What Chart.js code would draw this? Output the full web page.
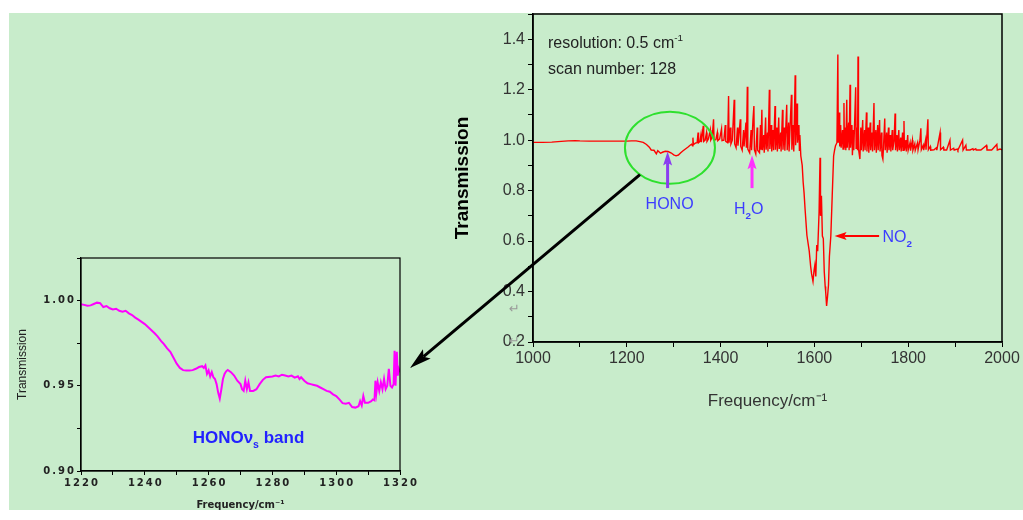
<!DOCTYPE html>
<html>
<head>
<meta charset="utf-8">
<script src="https://cdn.jsdelivr.net/npm/chart.js@4.4.1/dist/chart.umd.min.js"></script>
<style>
  html, body { margin: 0; padding: 0; background: #ffffff; }
  #bg { position: absolute; left: 9px; top: 13px; width: 1014px; height: 497px; background: #c8eccb; }
  canvas { position: absolute; left: 0; top: 0; }
</style>
</head>
<body>
<div id="bg"></div>
<canvas id="mainChart" width="1023" height="520"></canvas>
<canvas id="zoomChart" width="1023" height="520"></canvas>
<script>
// spectrum 1000-2000 cm-1
const freq = [1000,1020,1040,1060,1075,1090,1100,1120,1150,1180,1200,1210,1220,1228,1235,1242,1248,1252,1258,1263,1266,1272,1276,1282,1288,1295,1300,1305,1310,1315,1320,1325,1330,1335,1338,1340,1341,1342,1346,1350,1352,1353,1356,1358,1359,1363,1364,1367,1370,1371,1374,1378,1379,1382,1385,1386,1390,1393,1394,1398,1402,1403,1407,1410,1411,1415,1417,1418,1421,1422,1425,1429,1430,1433,1436,1437,1442,1443,1446,1449,1450,1454,1455,1457,1458,1462,1465,1466,1469,1471,1472,1475,1478,1479,1483,1485,1486,1488,1489,1492,1493,1496,1497,1500,1501,1504,1505,1508,1509,1512,1513,1516,1517,1520,1521,1524,1525,1528,1529,1532,1533,1536,1537,1541,1542,1545,1546,1551,1552,1555,1556,1559,1560,1563,1564,1567,1568,1569,1571,1574,1576,1578,1580,1584,1589,1592,1594,1597,1599,1601,1603,1605,1607,1610,1612,1613,1615,1617,1619,1621,1623,1624,1626,1628,1630,1632,1635,1638,1641,1643,1645,1648,1650,1651,1653,1654,1656,1657,1660,1661,1663,1664,1666,1667,1669,1670,1673,1674,1676,1677,1680,1681,1683,1684,1688,1689,1691,1692,1693,1694,1697,1699,1700,1703,1704,1707,1708,1711,1712,1715,1716,1719,1720,1723,1724,1727,1728,1731,1732,1735,1736,1739,1740,1743,1744,1746,1747,1750,1751,1754,1755,1758,1759,1762,1763,1766,1767,1770,1772,1773,1776,1777,1780,1781,1784,1785,1788,1789,1791,1792,1795,1796,1799,1800,1804,1805,1809,1810,1814,1815,1820,1821,1825,1827,1828,1832,1833,1837,1838,1842,1843,1847,1848,1855,1860,1861,1868,1869,1875,1876,1882,1889,1890,1897,1898,1905,1906,1916,1917,1923,1924,1932,1938,1939,1944,1945,1955,1967,1968,1978,1989,1990,1996,2000];
const trans = [0.991,0.991,0.992,0.995,0.997,0.998,0.997,0.996,0.996,0.996,0.996,0.997,0.997,0.994,0.991,0.983,0.972,0.961,0.960,0.946,0.958,0.948,0.952,0.956,0.955,0.949,0.942,0.938,0.941,0.950,0.958,0.965,0.972,0.980,0.984,0.978,1.010,0.982,0.988,0.990,1.030,0.990,0.995,1.020,0.992,1.057,0.995,1.000,1.030,0.995,1.005,1.040,1.000,1.010,1.083,1.000,1.002,1.030,0.998,1.005,1.045,0.998,1.000,1.060,0.995,0.990,1.175,0.990,1.050,0.985,1.000,1.160,0.985,0.970,1.050,0.978,1.083,0.975,0.960,1.040,0.975,1.070,0.970,1.212,0.965,0.950,1.040,0.960,1.080,1.135,0.962,0.945,1.050,0.960,0.950,1.060,0.962,1.120,0.960,1.020,0.950,1.090,0.962,1.030,0.955,1.200,0.965,1.060,0.955,1.040,0.960,1.135,0.962,1.050,0.955,1.090,0.965,1.030,0.955,1.120,0.962,1.050,0.958,1.140,0.960,1.070,0.955,1.180,0.962,1.060,0.955,1.257,0.980,1.145,0.990,1.060,0.960,1.020,0.938,0.900,0.834,0.790,0.730,0.623,0.560,0.500,0.470,0.440,0.480,0.505,0.460,0.584,0.560,0.716,0.930,0.700,0.780,0.620,0.610,0.480,0.420,0.400,0.343,0.380,0.425,0.540,0.620,0.780,0.938,0.960,0.978,0.990,1.339,0.990,1.110,0.975,1.060,0.970,1.040,0.965,1.147,0.970,1.050,0.960,1.160,0.970,1.070,0.960,1.220,0.970,1.060,0.940,1.040,0.960,1.210,0.965,1.050,0.960,1.332,0.965,0.925,1.050,0.960,1.080,0.955,1.040,0.960,1.110,0.955,1.050,0.950,1.070,0.960,1.030,0.955,1.147,0.960,1.040,0.950,1.060,0.960,1.080,0.955,1.030,0.940,0.925,0.960,1.086,0.960,1.030,0.950,1.050,0.960,1.020,0.955,1.040,0.960,1.000,1.106,0.960,1.020,0.955,1.040,0.960,1.010,0.955,1.030,0.960,1.076,0.960,1.000,0.955,1.020,0.960,0.990,0.958,1.000,0.960,0.985,0.960,0.990,0.962,1.000,1.047,0.962,0.980,0.960,1.000,0.962,1.083,0.962,0.975,0.960,0.962,0.970,0.960,1.030,0.962,0.972,0.961,0.961,1.000,0.961,0.968,0.961,0.965,0.961,1.000,0.961,0.980,0.961,0.961,0.966,0.961,0.966,0.961,0.961,0.979,0.961,0.961,0.983,0.961,0.965,0.961];

// HONO v3 band close-up 1220-1320 cm-1
const freqZoom = [1220,1221,1222,1223,1224,1225,1226,1227,1228,1229,1230,1231,1232,1233,1234,1235,1236,1237,1238,1239,1240,1241,1242,1243,1244,1245,1246,1247,1248,1249,1250,1251,1252,1253,1254,1255,1256,1257,1258,1258.5,1259,1259.5,1260,1260.5,1261,1261.5,1262,1262.5,1263,1263.5,1264,1264.5,1265,1265.5,1266,1267,1268,1269,1270,1270.5,1271,1271.5,1272,1272.5,1273,1274,1275,1276,1277,1278,1280,1281,1282,1283,1284,1285,1286,1287,1288,1288.5,1289,1290,1291,1292,1293,1294,1295,1296,1297,1298,1299,1300,1301,1302,1303,1304,1305,1306,1307,1307.5,1308,1308.5,1309,1310,1311,1311.5,1312,1312.3,1312.6,1313,1313.5,1314,1314.5,1315,1315.5,1316,1316.5,1317,1317.5,1318,1318.3,1318.6,1319,1319.3,1319.6,1320];
const transZoom = [0.9978,0.9975,0.9970,0.9972,0.9980,0.9988,0.9985,0.9962,0.9968,0.9955,0.9948,0.9952,0.9940,0.9935,0.9940,0.9925,0.9915,0.9900,0.9888,0.9875,0.9862,0.9845,0.9828,0.9810,0.9790,0.9765,0.9745,0.9720,0.9700,0.9665,0.9630,0.9605,0.9592,0.9590,0.9590,0.9592,0.9600,0.9610,0.9615,0.9605,0.9620,0.9570,0.9590,0.9555,0.9580,0.9550,0.9540,0.9510,0.9460,0.9425,0.9480,0.9540,0.9570,0.9585,0.9593,0.9580,0.9560,0.9530,0.9510,0.9480,0.9470,0.9530,0.9480,0.9520,0.9470,0.9470,0.9480,0.9510,0.9535,0.9550,0.9555,0.9560,0.9555,0.9565,0.9560,0.9555,0.9560,0.9548,0.9556,0.9540,0.9550,0.9530,0.9515,0.9510,0.9505,0.9500,0.9490,0.9480,0.9470,0.9465,0.9450,0.9440,0.9420,0.9398,0.9395,0.9400,0.9375,0.9372,0.9380,0.9410,0.9385,0.9440,0.9400,0.9400,0.9410,0.9420,0.9415,0.9530,0.9460,0.9520,0.9470,0.9520,0.9480,0.9540,0.9480,0.9500,0.9600,0.9500,0.9490,0.9510,0.9705,0.9500,0.9700,0.9560,0.9600,0.9580];

const mainXTicks = [1000, 1200, 1400, 1600, 1800, 2000];
const zoomXTicks = [1220, 1240, 1260, 1280, 1300, 1320];

function drawArrow(ctx, x1, y1, x2, y2, color, width, headLen, headW) {
    const ang = Math.atan2(y2 - y1, x2 - x1);
    ctx.save();
    ctx.strokeStyle = color;
    ctx.fillStyle = color;
    ctx.lineWidth = width;
    ctx.beginPath();
    ctx.moveTo(x1, y1);
    ctx.lineTo(x2 - Math.cos(ang) * headLen * 0.8, y2 - Math.sin(ang) * headLen * 0.8);
    ctx.stroke();
    ctx.translate(x2, y2);
    ctx.rotate(ang);
    ctx.beginPath();
    ctx.moveTo(0, 0);
    ctx.lineTo(-headLen, -headW / 2);
    ctx.lineTo(-headLen * 0.8, 0);
    ctx.lineTo(-headLen, headW / 2);
    ctx.closePath();
    ctx.fill();
    ctx.restore();
}

// formula text with sub/superscripts: parts = [[text, 'n'|'sub'|'sup'], ...]
function drawParts(ctx, x, y, parts, size, color, weight) {
    ctx.save();
    ctx.fillStyle = color;
    ctx.textBaseline = 'alphabetic';
    ctx.textAlign = 'left';
    parts.forEach(function (p) {
        let s = size, dy = 0;
        if (p[1] === 'sub') { s = size * 0.62; dy = size * 0.32; }
        if (p[1] === 'sup') { s = size * 0.62; dy = -size * 0.42; }
        ctx.font = (p[2] || weight || '') + ' ' + s + 'px "Liberation Sans", "DejaVu Sans"';
        ctx.fillText(p[0], x, y + dy);
        x += ctx.measureText(p[0]).width;
    });
    ctx.restore();
}

const mainOverlay = {
    id: 'mainOverlay',
    afterDraw(chart) {
        const ctx = chart.ctx;
        const a = chart.chartArea;
        const xs = chart.scales.x, ys = chart.scales.y;
        ctx.save();
        ctx.strokeStyle = '#000';
        ctx.lineWidth = 1.5;
        ctx.strokeRect(a.left, a.top, a.right - a.left, a.bottom - a.top);
        ctx.restore();

        drawParts(ctx, a.left + 15, a.top + 34, [['resolution: 0.5 cm', 'n'], ['-1', 'sup']], 16, '#222');
        drawParts(ctx, a.left + 15, a.top + 60, [['scan number: 128', 'n']], 16, '#222');

        // green circle round the HONO dip
        const cx = xs.getPixelForValue(1292), cy = ys.getPixelForValue(0.97);
        ctx.save();
        ctx.strokeStyle = '#2ee02e';
        ctx.lineWidth = 2;
        ctx.beginPath();
        ctx.ellipse(cx, cy, 45, 36, 0, 0, Math.PI * 2);
        ctx.stroke();
        ctx.restore();

        // arrow to the close-up
        drawArrow(ctx, cx - 30, cy + 27, 410, 368, '#000', 3, 22, 12);

        const hx = xs.getPixelForValue(1287);
        drawArrow(ctx, hx, ys.getPixelForValue(0.81), hx, ys.getPixelForValue(0.955), '#8a3cf0', 3, 14, 9);
        ctx.save();
        ctx.font = '16px "Liberation Sans", "DejaVu Sans"';
        ctx.fillStyle = '#3c3cff';
        ctx.textAlign = 'center';
        ctx.fillText('HONO', hx + 2, ys.getPixelForValue(0.75) + 6);
        ctx.restore();

        const wx = xs.getPixelForValue(1467);
        drawArrow(ctx, wx, ys.getPixelForValue(0.81), wx, ys.getPixelForValue(0.94), '#ff30ff', 3, 14, 9);
        drawParts(ctx, wx - 18, ys.getPixelForValue(0.73) + 6, [['H', 'n'], ['2', 'sub', 'bold'], ['O', 'n']], 16, '#3c3cff');

        const ny = ys.getPixelForValue(0.62);
        drawArrow(ctx, xs.getPixelForValue(1738), ny, xs.getPixelForValue(1643), ny, '#ff0000', 2, 12, 8);
        drawParts(ctx, xs.getPixelForValue(1745), ny + 6, [['NO', 'n'], ['2', 'sub', 'bold']], 16, '#3c3cff');

        ctx.save();
        ctx.font = '13px "DejaVu Sans"';
        ctx.fillStyle = '#999';
        ctx.fillText('\u21B5', a.left - 24, ys.getPixelForValue(0.33) + 4);
        ctx.fillText('\u21B5', a.left - 24, ys.getPixelForValue(0.2) + 3);
        ctx.restore();
    }
};

const zoomOverlay = {
    id: 'zoomOverlay',
    afterDraw(chart) {
        const ctx = chart.ctx;
        const a = chart.chartArea;
        ctx.save();
        ctx.strokeStyle = '#000';
        ctx.lineWidth = 1.2;
        ctx.strokeRect(a.left, a.top, a.right - a.left, a.bottom - a.top);
        ctx.restore();
        const x0 = chart.scales.x.getPixelForValue(1255);
        const y0 = chart.scales.y.getPixelForValue(0.9165);
        drawParts(ctx, x0, y0, [['HONO', 'n'], ['\u03BD', 'n'], ['s', 'sub'], [' band', 'n']], 17, '#2222ff', 'bold');
    }
};

const mainData = freq.map(function (f, i) { return { x: f, y: trans[i] }; });
const zoomData = freqZoom.map(function (f, i) { return { x: f, y: transZoom[i] }; });

new Chart(document.getElementById('mainChart'), {
    type: 'line',
    data: { datasets: [{ data: mainData, borderColor: '#ff0000', borderWidth: 1.4, pointRadius: 0, tension: 0 }] },
    options: {
        responsive: false,
        animation: false,
        layout: { padding: { left: 447, right: 21, top: 14, bottom: 104 } },
        plugins: { legend: { display: false }, tooltip: { enabled: false } },
        scales: {
            x: {
                type: 'linear', min: 1000, max: 2000,
                afterFit: function (s) { s.height = 74; },
                afterBuildTicks: function (s) { s.ticks = [1000,1100,1200,1300,1400,1500,1600,1700,1800,1900,2000].map(function (v) { return { value: v }; }); },
                ticks: {
                    color: '#333', font: { family: 'Liberation Sans', size: 16 }, padding: 2,
                    maxRotation: 0, minRotation: 0, autoSkip: false,
                    callback: function (v) { return mainXTicks.indexOf(v) >= 0 ? String(v) : ''; }
                },
                grid: { drawOnChartArea: false, color: '#000', tickLength: 5 },
                border: { color: '#000', width: 1.5 },
                title: { display: true, text: 'Frequency/cm\u207B\u00B9', color: '#333', font: { family: 'Liberation Sans', size: 17 } }
            },
            y: {
                min: 0.2, max: 1.5,
                afterFit: function (s) { s.width = 86; },
                afterBuildTicks: function (s) { s.ticks = [2,3,4,5,6,7,8,9,10,11,12,13,14,15].map(function (v) { return { value: v / 10 }; }); },
                ticks: {
                    color: '#333', font: { family: 'Liberation Sans', size: 16 }, padding: 3, autoSkip: false,
                    callback: function (v) { const k = Math.round(v * 10); return (k % 2 === 0 && k <= 14) ? (k / 10).toFixed(1) : ''; }
                },
                grid: { drawOnChartArea: false, color: '#000', tickLength: 5 },
                border: { color: '#000', width: 1.5 },
                title: { display: true, text: 'Transmission', color: '#000', font: { family: 'Liberation Sans', size: 19, weight: 'bold' } }
            }
        }
    },
    plugins: [mainOverlay]
});

new Chart(document.getElementById('zoomChart'), {
    type: 'line',
    data: { datasets: [{ data: zoomData, borderColor: '#ff00ff', borderWidth: 2, pointRadius: 0, tension: 0 }] },
    options: {
        responsive: false,
        animation: false,
        layout: { padding: { left: 11, right: 623, top: 258, bottom: 5 } },
        plugins: { legend: { display: false }, tooltip: { enabled: false } },
        scales: {
            x: {
                type: 'linear', min: 1220, max: 1320,
                afterFit: function (s) { s.height = 44; },
                afterBuildTicks: function (s) { s.ticks = [1220,1230,1240,1250,1260,1270,1280,1290,1300,1310,1320].map(function (v) { return { value: v }; }); },
                ticks: {
                    color: '#222', font: { family: 'DejaVu Sans', size: 10, weight: 'bold' }, padding: 2,
                    maxRotation: 0, minRotation: 0, autoSkip: false,
                    callback: function (v) { return zoomXTicks.indexOf(v) >= 0 ? String(v).split('').join('\u2009') : ''; }
                },
                grid: { drawOnChartArea: false, color: '#000', tickLength: 4 },
                border: { color: '#000', width: 1.2 },
                title: { display: true, text: 'Frequency/cm\u207B\u00B9', color: '#222', font: { family: 'DejaVu Sans', size: 10, weight: 'bold' } }
            },
            y: {
                min: 0.9, max: 1.025,
                afterFit: function (s) { s.width = 70; },
                afterBuildTicks: function (s) { s.ticks = [900, 925, 950, 975, 1000, 1025].map(function (v) { return { value: v / 1000 }; }); },
                ticks: {
                    color: '#222', font: { family: 'DejaVu Sans', size: 10, weight: 'bold' }, padding: 3, autoSkip: false,
                    callback: function (v) { const k = Math.round(v * 1000); return (k % 50 === 0) ? (k / 1000).toFixed(2).split('').join('\u2009') : ''; }
                },
                grid: { drawOnChartArea: false, color: '#000', tickLength: 4 },
                border: { color: '#000', width: 1.2 },
                title: { display: true, text: 'Transmission', color: '#222', font: { family: 'Liberation Sans', size: 12 } }
            }
        }
    },
    plugins: [zoomOverlay]
});
</script>
</body>
</html>
